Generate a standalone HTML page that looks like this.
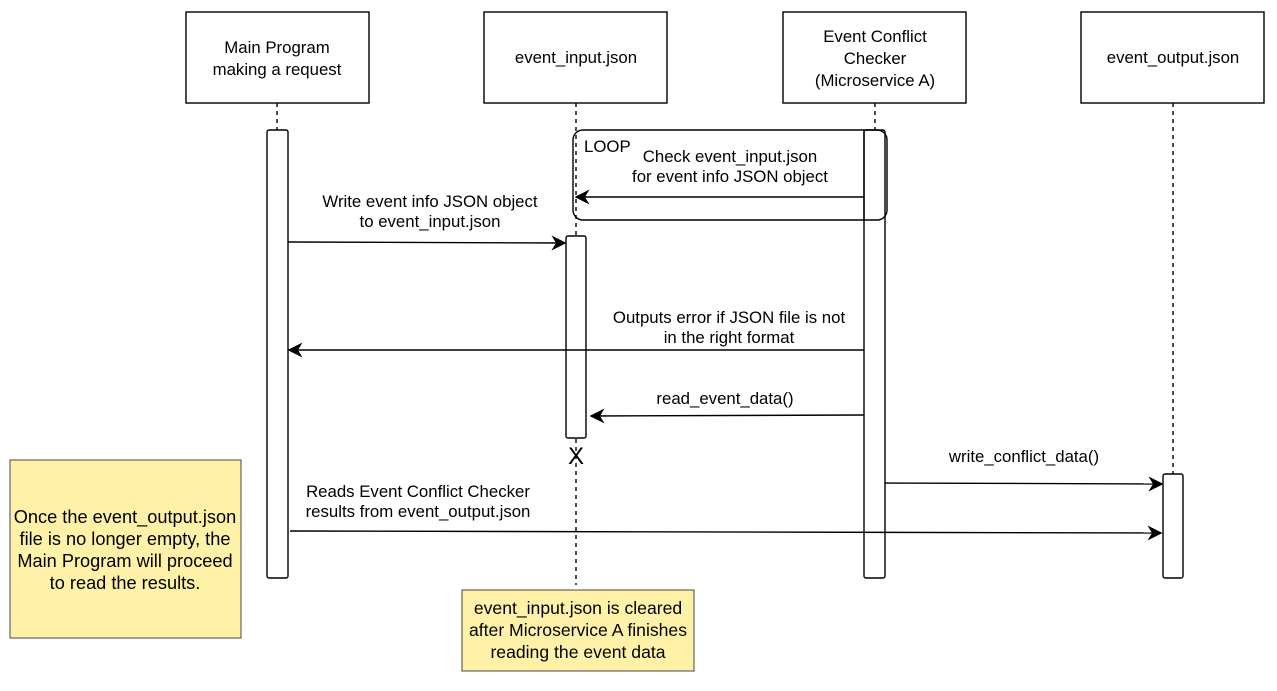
<!DOCTYPE html>
<html><head><meta charset="utf-8"><style>
html,body{margin:0;padding:0;background:#fff;}
svg text{font-family:"Liberation Sans",Arial,sans-serif;font-size:16.8px;fill:#000;}
svg text.n1{font-size:18.2px;}
svg text.n2{font-size:17.6px;}
svg text.x{font-size:24px;}
</style></head><body>
<svg width="1277" height="686" viewBox="0 0 1277 686" xmlns="http://www.w3.org/2000/svg">
<defs><marker id="a" viewBox="0 0 10 10" refX="9" refY="5" markerWidth="15" markerHeight="15" markerUnits="userSpaceOnUse" orient="auto"><path d="M0,0 L10,5 L0,10 L3,5 Z" fill="#000"/></marker></defs>
<g stroke="#000" stroke-width="1.4" fill="#fff">
<rect x="186" y="12" width="183" height="91"/>
<rect x="484" y="12" width="183" height="91"/>
<rect x="783" y="12" width="183" height="91"/>
<rect x="1081" y="12" width="183" height="91"/>
</g>
<g stroke="#000" stroke-width="1.4" stroke-dasharray="4,4">
<line x1="277" y1="103" x2="277" y2="130"/>
<line x1="576" y1="103" x2="576" y2="585"/>
<line x1="875" y1="103" x2="875" y2="130"/>
<line x1="1173" y1="103" x2="1173" y2="474"/>
</g>
<g stroke="#000" stroke-width="1.4" fill="#fff">
<rect x="267" y="130" width="21" height="448" rx="2"/>
<rect x="566" y="236" width="20" height="202" rx="2"/>
<rect x="864" y="130" width="21" height="448" rx="2"/>
<rect x="1163" y="474" width="20" height="104" rx="2"/>
</g>
<rect x="573" y="130" width="314" height="90" rx="10" fill="none" stroke="#000" stroke-width="1.4"/>
<line x1="864" y1="130" x2="864" y2="220" stroke="#000" stroke-width="1.4"/>
<g stroke="#000" stroke-width="1.4" fill="none" marker-end="url(#a)">
<line x1="864" y1="197" x2="576" y2="197"/>
<line x1="288" y1="242" x2="565" y2="243"/>
<line x1="864" y1="350" x2="289" y2="350"/>
<line x1="864" y1="415" x2="591" y2="416"/>
<line x1="885" y1="483" x2="1162" y2="484"/>
<line x1="290" y1="531" x2="1161" y2="533"/>
</g>
<text class="x" x="576" y="464" text-anchor="middle">X</text>
<rect x="10" y="460" width="231" height="178" fill="#fff2a8" stroke="#444" stroke-width="1"/>
<rect x="462" y="590" width="232" height="81" fill="#fff2a8" stroke="#444" stroke-width="1"/>
<g text-anchor="middle">
<text x="277" y="53">Main Program</text><text x="277" y="75">making a request</text>
<text x="576" y="63">event_input.json</text>
<text x="875" y="42">Event Conflict</text><text x="875" y="64">Checker</text><text x="875" y="86">(Microservice A)</text>
<text x="1173" y="63">event_output.json</text>
<text x="730" y="162">Check event_input.json</text><text x="730" y="182">for event info JSON object</text>
<text x="430" y="207">Write event info JSON object</text><text x="430" y="227">to event_input.json</text>
<text x="729" y="323">Outputs error if JSON file is not</text><text x="729" y="343">in the right format</text>
<text x="725" y="404">read_event_data()</text>
<text x="1024" y="462">write_conflict_data()</text>
<text x="418" y="497">Reads Event Conflict Checker</text><text x="418" y="517">results from event_output.json</text>
<text class="n1" x="125" y="523">Once the event_output.json</text><text class="n1" x="125" y="545">file is no longer empty, the</text><text class="n1" x="125" y="567">Main Program will proceed</text><text class="n1" x="125" y="589">to read the results.</text>
<text class="n2" x="578" y="614">event_input.json is cleared</text><text class="n2" x="578" y="636">after Microservice A finishes</text><text class="n2" x="578" y="658">reading the event data</text>
</g>
<text x="584" y="152">LOOP</text>
</svg>
</body></html>
